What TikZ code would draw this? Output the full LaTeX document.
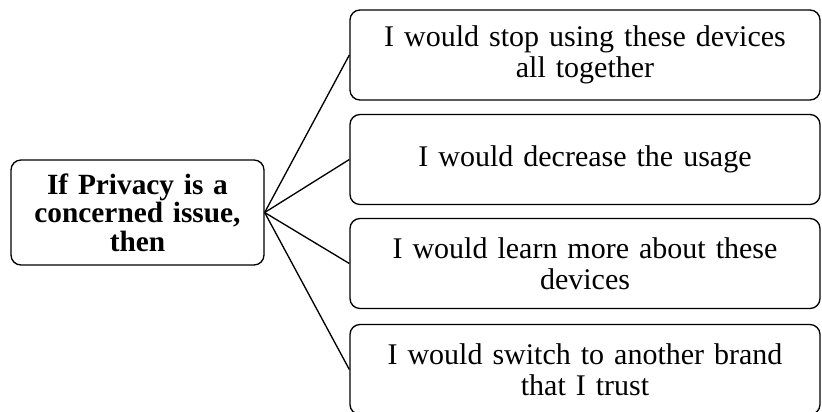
\documentclass[tikz,border=0pt]{standalone}
\usepackage{fontspec}
\setmainfont{Liberation Serif}
\begin{document}
\begin{tikzpicture}[x=0.75pt,y=-0.75pt,
  box/.style={draw=black, line width=1pt, rounded corners=7.5pt, align=center, inner sep=0pt},
  lbox/.style={box, minimum width=253*0.75pt, minimum height=105*0.75pt, text width=250*0.75pt, font=\fontsize{22}{21.5}\selectfont\bfseries},
  rbox/.style={box, minimum width=470*0.75pt, minimum height=90*0.75pt, text width=465*0.75pt, font=\fontsize{22.5}{23}\selectfont},
  link/.style={draw=black, line width=1pt}]
\useasboundingbox (0,0) rectangle (822,411);
\node[lbox] (src) at (137.5,212.5) {If Privacy is a\\concerned issue,\\then};
\node[rbox] (r1) at (585,55) {I would stop using these devices\\all together};
\node[rbox] (r2) at (585,159.5) {I would decrease the usage};
\node[rbox] (r3) at (585,263.5) {I would learn more about these\\devices};
\node[rbox] (r4) at (585,369.5) {I would switch to another brand\\that I trust};
\foreach \t in {r1,r2,r3,r4}
  \draw[link] (src.east) -- (\t.west);
\end{tikzpicture}
\end{document}
